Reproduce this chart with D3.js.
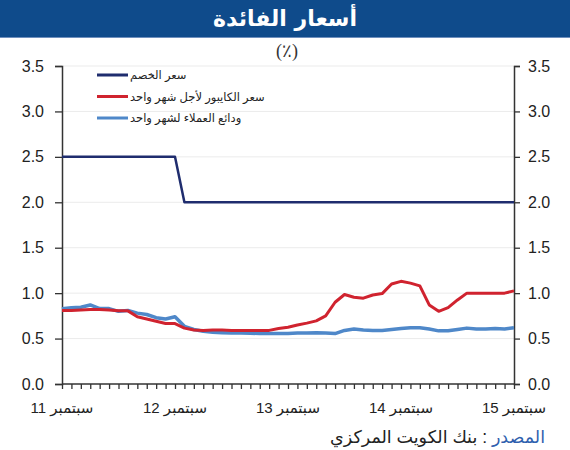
<!DOCTYPE html>
<html><head><meta charset="utf-8">
<script src="https://cdn.jsdelivr.net/npm/d3@7"></script>
<style>body{margin:0;background:#fff}svg{display:block}</style>
</head><body>
<svg id="c" width="570" height="450"></svg>
<script>
const title = "أسعار الفائدة";
const unitLabel = "(٪)";
const seriesNames = ["سعر الخصم", "سعر الكايبور لأجل شهر واحد", "ودائع العملاء لشهر واحد"];
const seriesColors = ["#1f2d6e", "#d0232f", "#4f88c9"];
// monthly index, 0 = Sep 2011 ... 48 = Sep 2015
const months = d3.range(0, 49);
const xTickIdx = [0, 12, 24, 36, 48];
const xTickLabels = ["سبتمبر 11", "سبتمبر 12", "سبتمبر 13", "سبتمبر 14", "سبتمبر 15"];
const yTicks = [0, 0.5, 1, 1.5, 2, 2.5, 3, 3.5];
const discountRate = [2.5,2.5,2.5,2.5,2.5,2.5,2.5,2.5,2.5,2.5,2.5,2.5,2.5,
  2,2,2,2,2,2,2,2,2,2,2,2,2,2,2,2,2,2,2,2,2,2,2,2,2,2,2,2,2,2,2,2,2,2,2,2];
const kibor = [0.81,0.81,0.815,0.82,0.82,0.815,0.805,0.805,0.74,0.715,0.69,0.665,0.665,0.615,0.595,0.59,0.595,0.595,0.59,0.59,0.59,0.59,0.59,0.61,0.625,
  0.65,0.67,0.695,0.75,0.90,0.985,0.955,0.945,0.98,0.995,1.10,1.13,1.11,1.08,0.87,0.80,0.84,0.925,1.00,1.00,1.00,1.00,1.00,1.025];
const deposits = [0.827,0.84,0.845,0.87,0.83,0.83,0.80,0.81,0.78,0.765,0.73,0.715,0.74,0.635,0.60,0.58,0.57,0.565,0.56,0.56,0.558,0.556,0.555,0.555,0.555,
  0.56,0.56,0.565,0.56,0.555,0.59,0.605,0.595,0.59,0.59,0.60,0.61,0.62,0.62,0.605,0.585,0.585,0.60,0.615,0.605,0.605,0.61,0.605,0.62];
const sourceLabel = "المصدر";
const sourceText = " : بنك الكويت المركزي";

const svg = d3.select("#c");
const FONT = "'Liberation Sans', Arial, 'DejaVu Sans', sans-serif";

// title bar
svg.append("rect").attr("x",0).attr("y",0).attr("width",570).attr("height",37).attr("fill","#0f4b8b");
svg.append("rect").attr("x",0).attr("y",37).attr("width",570).attr("height",1).attr("fill","#6f8fbd");
svg.append("text").attr("x",285).attr("y",26).attr("text-anchor","middle")
  .attr("fill","#fff").attr("font-weight","bold").attr("font-size",22)
  .attr("font-family","'DejaVu Sans', sans-serif").text(title);

svg.append("text").attr("x",287).attr("y",57).attr("text-anchor","middle")
  .attr("fill","#333").attr("font-size",18).attr("font-family","'Liberation Serif', 'DejaVu Serif', serif")
  .text(unitLabel);

const x = d3.scaleLinear().domain([0,48]).range([62,514]);
const y = d3.scaleLinear().domain([0,3.5]).range([384,66]);

// gridlines
svg.append("g").selectAll("line").data(yTicks.filter(d=>d>0)).join("line")
  .attr("x1",x(0)).attr("x2",x(48)).attr("y1",d=>y(d)).attr("y2",d=>y(d))
  .attr("stroke","#ebebeb").attr("stroke-width",1);

// axes
const yL = svg.append("g").attr("transform",`translate(${x(0)},0)`)
  .call(d3.axisLeft(y).tickValues(yTicks).tickFormat(d3.format(".1f")).tickSize(7).tickPadding(11));
const yR = svg.append("g").attr("transform",`translate(${x(48)},0)`)
  .call(d3.axisRight(y).tickValues(yTicks).tickFormat(d3.format(".1f")).tickSize(6).tickPadding(8));
const xA = svg.append("g").attr("transform",`translate(0,${y(0)})`)
  .call(d3.axisBottom(x).tickValues(months).tickFormat(()=>"").tickSize(5));
[yL,yR,xA].forEach(g=>{
  g.select(".domain").attr("stroke","#333").attr("stroke-width",1.5);
  g.selectAll(".tick line").attr("stroke","#333").attr("stroke-width",1.3);
  g.selectAll("text").attr("font-size",16).attr("font-family",FONT).attr("fill","#222");
});
xA.select(".domain").attr("d",`M${x(0)},0H${x(48)}`);

// x labels
svg.append("g").selectAll("text").data(xTickIdx).join("text")
  .attr("x",d=>x(d)).attr("y",413).attr("text-anchor","middle").attr("direction","rtl")
  .attr("font-size",15).attr("font-family",FONT).attr("fill","#222")
  .text((d,i)=>xTickLabels[i]);

// lines
const allSeries = [discountRate, kibor, deposits];
const widths = [2.5, 3, 3.5];
const line = d3.line().x((d,i)=>x(months[i])).y(d=>y(d));
[2,1,0].forEach(k=>{
  svg.append("path").datum(allSeries[k]).attr("d",line).attr("fill","none")
    .attr("stroke",seriesColors[k]).attr("stroke-width",widths[k]).attr("stroke-linejoin","round");
});

// legend
const lg = svg.append("g");
seriesNames.forEach((n,i)=>{
  const yy = 75 + i*21.5;
  lg.append("line").attr("x1",97).attr("x2",128).attr("y1",yy).attr("y2",yy)
    .attr("stroke",seriesColors[i]).attr("stroke-width",3);
  lg.append("text").attr("x",130).attr("y",yy+4).attr("font-size",11.5)
    .attr("font-family",FONT).attr("fill","#222").text(n);
});

// source
const st = svg.append("text").attr("x",545).attr("y",443).attr("direction","rtl")
  .attr("text-anchor","start").attr("font-size",17.5).attr("font-family",FONT).attr("fill","#222");
st.append("tspan").attr("fill","#2f5fae").text(sourceLabel);
st.append("tspan").text(sourceText);
</script>
</body></html>
